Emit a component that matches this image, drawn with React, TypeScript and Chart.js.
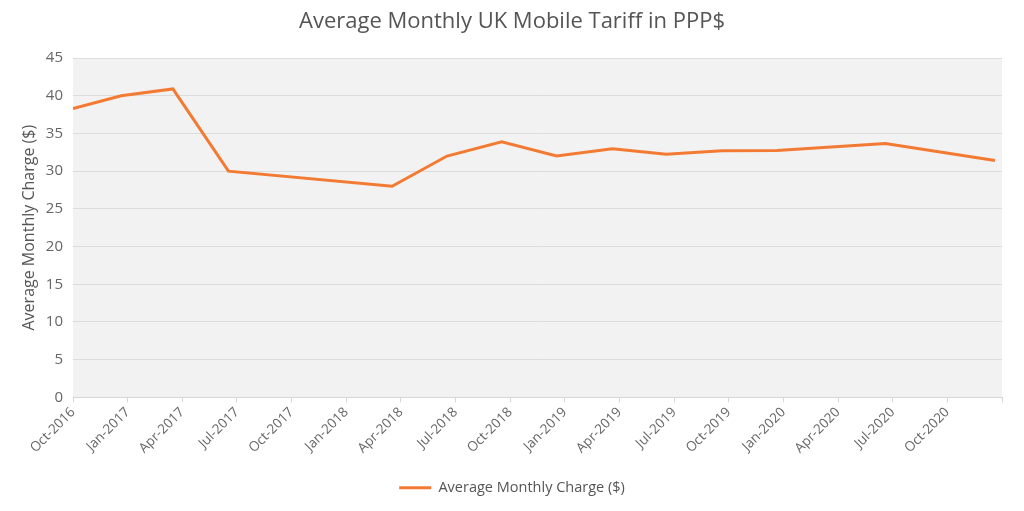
import React, { useEffect, useRef } from "react";
import { Chart, registerables } from "chart.js";

Chart.register(...registerables);

// observation dates and the average monthly charge (PPP$)
const obsDates = [
  "2016-10-01",
  "2016-12-21",
  "2017-03-16",
  "2017-06-17",
  "2018-03-17",
  "2018-06-17",
  "2018-09-17",
  "2018-12-18",
  "2019-03-20",
  "2019-06-18",
  "2019-09-20",
  "2019-12-21",
  "2020-06-19",
  "2020-12-20",
];
const avgCharge = [
  38.3, 40.0, 40.9, 30.0, 28.0, 32.0, 33.9, 32.0, 32.95, 32.25, 32.7, 32.75,
  33.65, 31.4,
];

// quarterly tick labels, starting Oct-2016 (last quarter left blank)
const quarterLabels = [
  "Oct-2016",
  "Jan-2017",
  "Apr-2017",
  "Jul-2017",
  "Oct-2017",
  "Jan-2018",
  "Apr-2018",
  "Jul-2018",
  "Oct-2018",
  "Jan-2019",
  "Apr-2019",
  "Jul-2019",
  "Oct-2019",
  "Jan-2020",
  "Apr-2020",
  "Jul-2020",
  "Oct-2020",
  "",
];

const FONT = "'Open Sans', sans-serif";
const ORANGE = "#f37a32";

// months since Oct-2016
const toMonths = (iso: string) => {
  const [y, m, d] = iso.split("-").map(Number);
  const days = new Date(y, m, 0).getDate();
  return (y - 2016) * 12 + (m - 10) + (d - 1) / days;
};

const plotBg = {
  id: "plotBg",
  beforeDraw(chart: Chart) {
    const { ctx, chartArea } = chart;
    if (!chartArea) return;
    ctx.save();
    ctx.fillStyle = "#f2f2f2";
    ctx.fillRect(
      chartArea.left,
      chartArea.top,
      chartArea.right - chartArea.left,
      chartArea.bottom - chartArea.top
    );
    ctx.restore();
  },
};

const App: React.FC = () => {
  const canvasRef = useRef<HTMLCanvasElement>(null);
  const chartRef = useRef<Chart | null>(null);

  useEffect(() => {
    document.body.style.margin = "0";
    if (!canvasRef.current) return;
    if (chartRef.current) chartRef.current.destroy();

    chartRef.current = new Chart(canvasRef.current, {
      type: "line",
      data: {
        datasets: [
          {
            label: "Average Monthly Charge ($)",
            data: obsDates.map((d, i) => ({ x: toMonths(d), y: avgCharge[i] })),
            borderColor: ORANGE,
            backgroundColor: ORANGE,
            borderWidth: 3,
            pointRadius: 0,
            tension: 0,
          },
        ],
      },
      options: {
        animation: false,
        responsive: true,
        maintainAspectRatio: false,
        layout: { padding: { left: 0, right: 0, top: 0, bottom: 6 } },
        plugins: {
          title: {
            display: true,
            text: "Average Monthly UK Mobile Tariff in PPP$",
            color: "#555",
            font: { family: FONT, size: 22, weight: "normal" },
            padding: { top: 9, bottom: 22.6 },
          },
          legend: {
            position: "bottom",
            labels: {
              color: "#555",
              font: { family: FONT, size: 14.5 },
              boxWidth: 32,
              boxHeight: 3,
              padding: 10,
              generateLabels: (chart: Chart) =>
                Chart.defaults.plugins.legend.labels
                  .generateLabels(chart)
                  .map((l: any) => ({ ...l, lineWidth: 0, fillStyle: ORANGE })),
            },
          },
          tooltip: { enabled: false },
        },
        scales: {
          x: {
            type: "linear",
            min: 0,
            max: 51,
            afterBuildTicks: (scale: any) => {
              scale.ticks = quarterLabels.map((_, i) => ({ value: i * 3 }));
            },
            afterFit: (scale: any) => {
              scale.height = scale.height + 12;
            },
            ticks: {
              autoSkip: false,
              minRotation: 45,
              maxRotation: 45,
              color: "#666",
              font: { family: FONT, size: 13.5 },
              padding: 2,
              callback: (v: any) => quarterLabels[Math.round(Number(v) / 3)] ?? "",
            },
            grid: {
              drawOnChartArea: false,
              drawTicks: true,
              tickLength: 5,
              color: "#d6d6d6",
            },
            border: { color: "#d6d6d6" },
          },
          y: {
            min: 0,
            max: 45,
            ticks: {
              stepSize: 5,
              color: "#666",
              font: { family: FONT, size: 15 },
              padding: 10,
            },
            grid: { color: "#dcdcdc", drawTicks: false, lineWidth: 1 },
            border: { display: false },
            title: {
              display: true,
              text: "Average Monthly Charge ($)",
              color: "#555",
              font: { family: FONT, size: 16 },
              padding: { top: 20, bottom: 0 },
            },
            afterFit: (scale: any) => {
              scale.width = 73;
            },
          },
          // empty right-hand spacer so the plot stops short of the edge
          yRight: {
            position: "right",
            min: 0,
            max: 45,
            ticks: { display: false },
            grid: { drawOnChartArea: false, drawTicks: false },
            border: { display: false },
            afterFit: (scale: any) => {
              scale.width = 22;
            },
          },
        },
      },
      plugins: [plotBg],
    } as any);

    return () => {
      if (chartRef.current) {
        chartRef.current.destroy();
        chartRef.current = null;
      }
    };
  }, []);

  return (
    <div style={{ width: 1024, height: 511, position: "relative" }}>
      <canvas ref={canvasRef} />
    </div>
  );
};

export default App;
